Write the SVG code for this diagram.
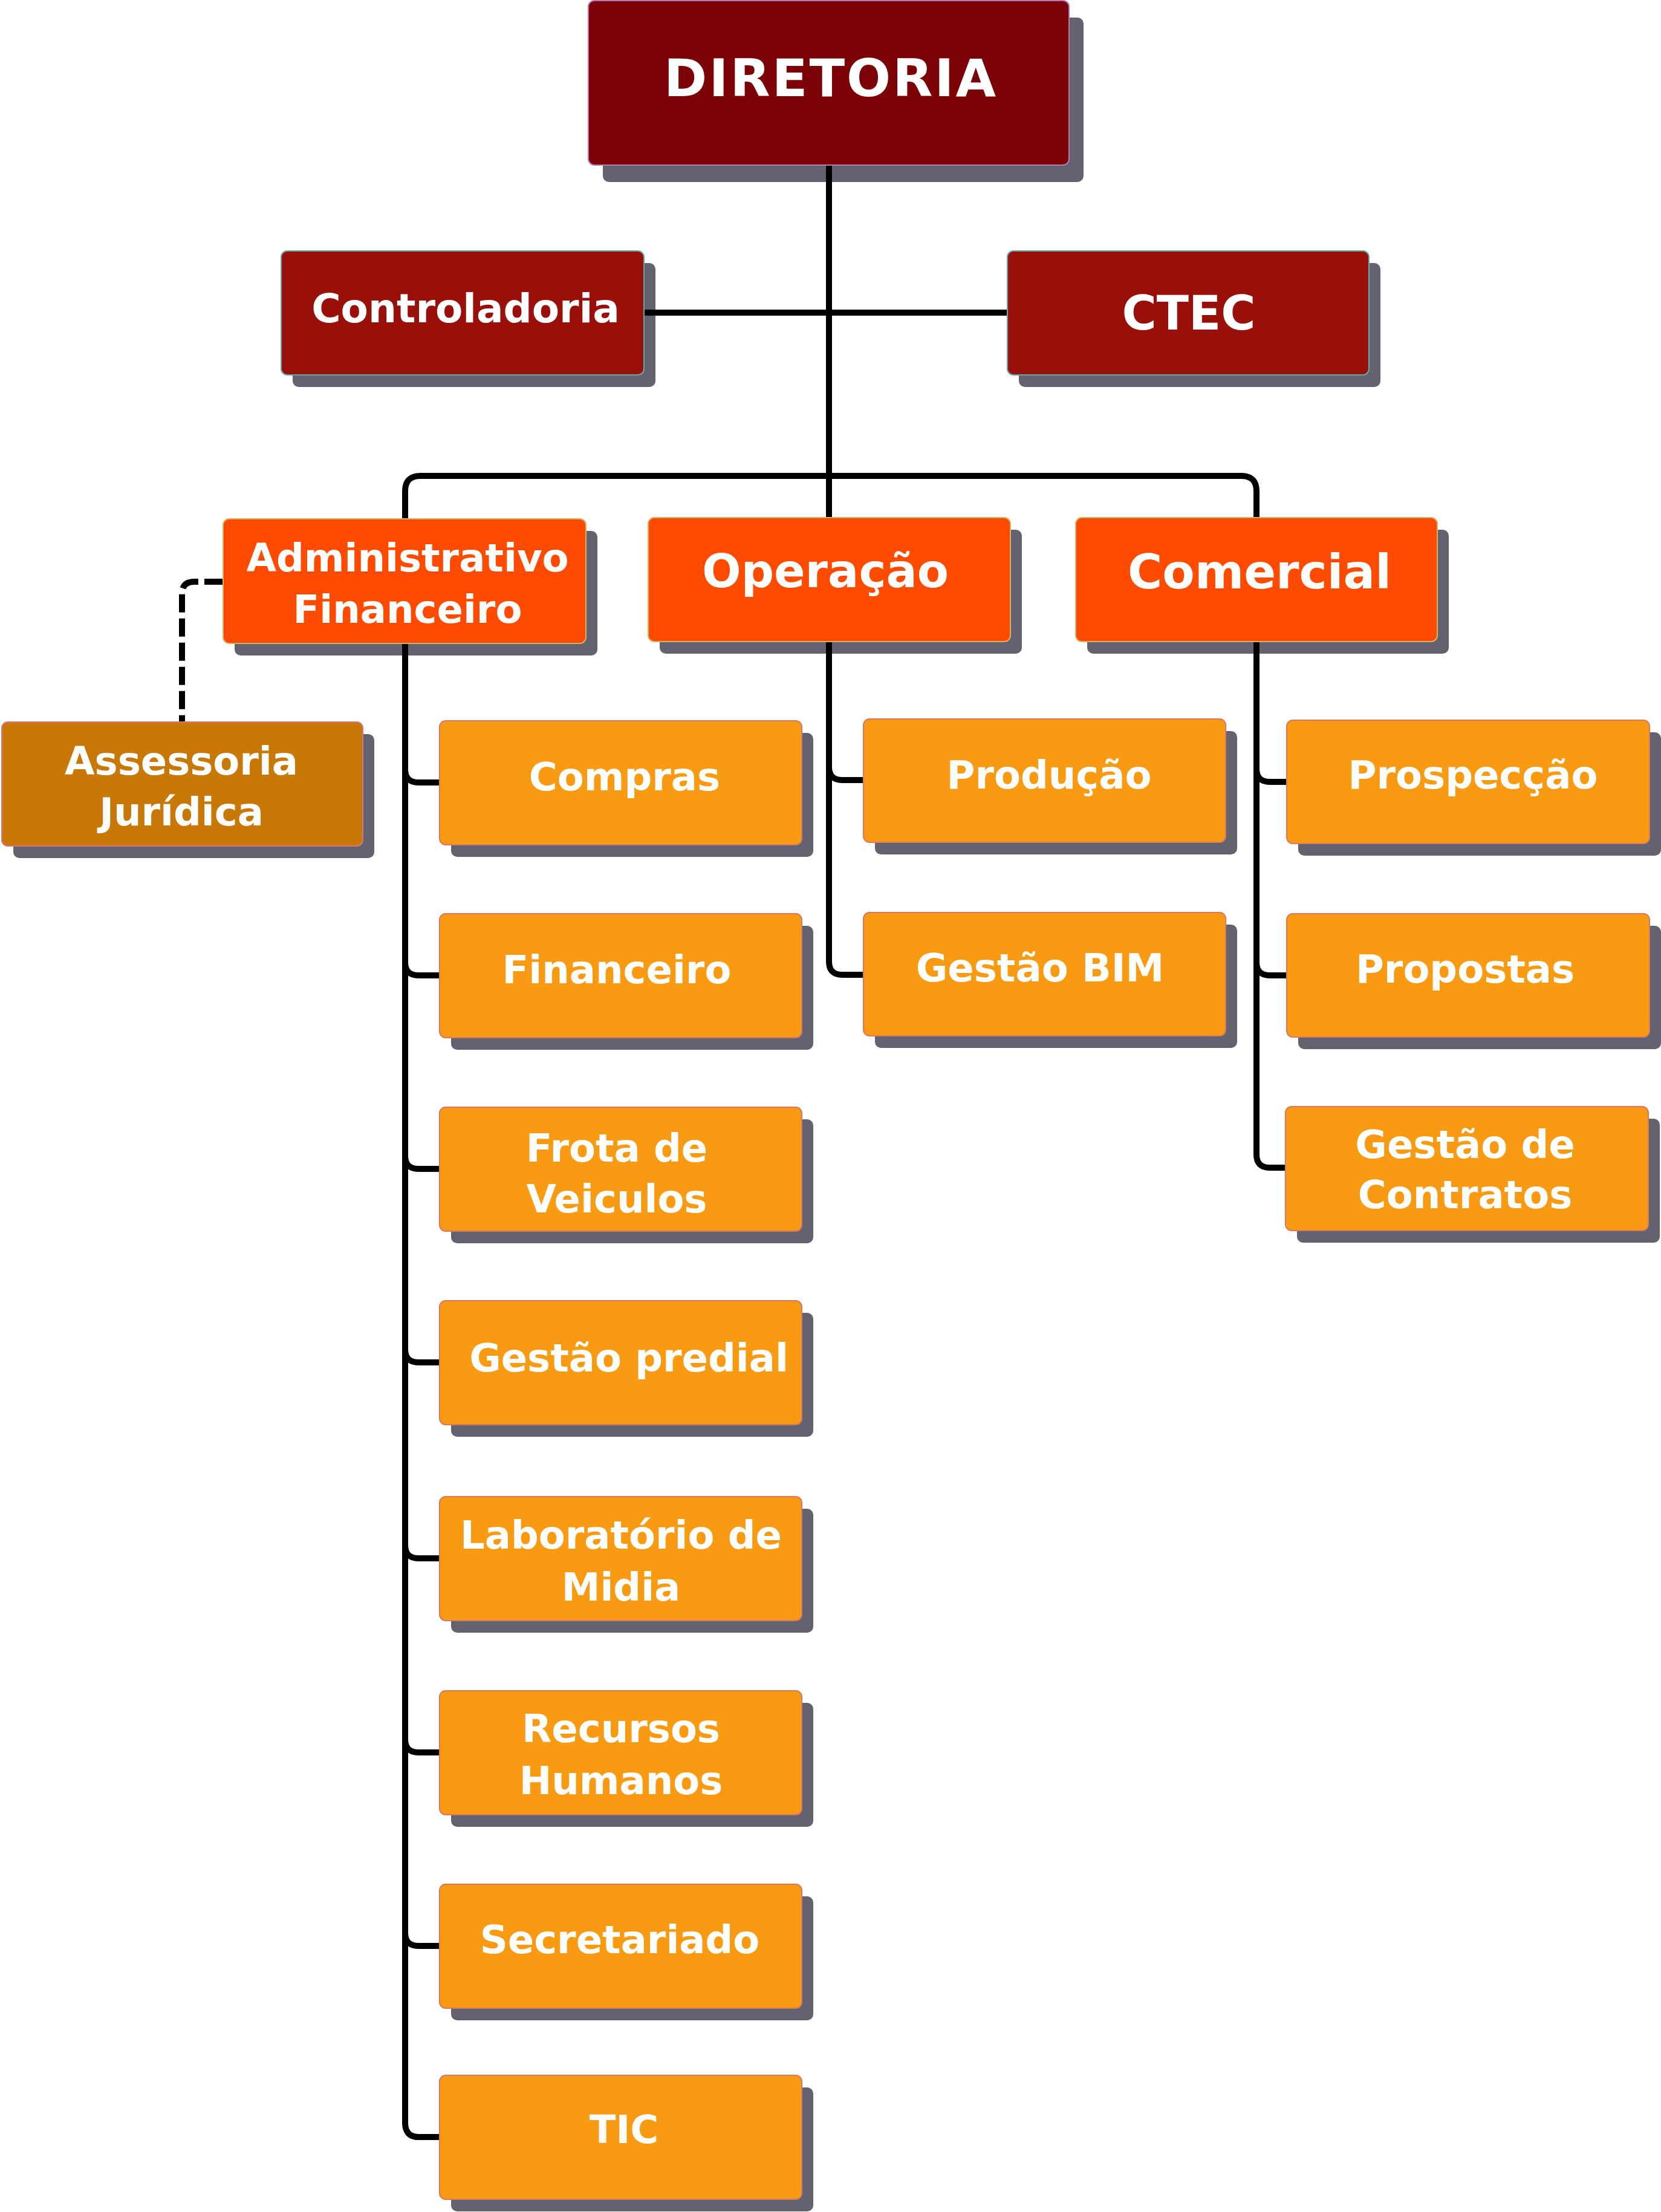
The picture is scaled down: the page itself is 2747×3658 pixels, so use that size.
<svg xmlns="http://www.w3.org/2000/svg" width="2747" height="3658" viewBox="0 0 2747 3658">
<style>
.sh{fill:#63626F}
.b0{fill:#7B0306;stroke:#B57BB5;stroke-width:2}
.b1{fill:#990F0A;stroke:#66A8A8;stroke-width:2}
.b2{fill:#FF4B00;stroke:#D4B26A;stroke-width:2}
.b3{fill:#F89A12;stroke:#D9785E;stroke-width:2}
.b4{fill:#C77807;stroke:#D9747A;stroke-width:2}
text{font-family:"DejaVu Sans","Liberation Sans",sans-serif;font-weight:bold;fill:#FFFFFF;text-anchor:middle}
.t{font-size:64px}
.c{fill:none;stroke:#000000;stroke-width:10}
.d{fill:none;stroke:#000000;stroke-width:10;stroke-dasharray:30 10}
</style>
<rect width="2747" height="3658" fill="#FFFFFF"/>
<g id="diretoria">
<rect class="sh" x="997" y="29" width="795" height="272" rx="10"/>
<rect class="b0" x="973" y="1" width="795" height="272" rx="10"/>
<text x="1374" y="159" style="font-size:86px;letter-spacing:3px">DIRETORIA</text>
</g>
<g id="controladoria">
<rect class="sh" x="484" y="435" width="600" height="205" rx="10"/>
<rect class="b1" x="465" y="415" width="600" height="205" rx="10"/>
<text x="770" y="533" style="font-size:66px">Controladoria</text>
</g>
<g id="ctec">
<rect class="sh" x="1685" y="435" width="598" height="205" rx="10"/>
<rect class="b1" x="1666" y="415" width="598" height="205" rx="10"/>
<text x="1966" y="545" style="font-size:78px">CTEC</text>
</g>
<g id="administrativo">
<rect class="sh" x="388" y="878" width="600" height="206" rx="10"/>
<rect class="b2" x="369" y="858" width="600" height="206" rx="10"/>
<text class="t" x="674" y="945">Administrativo</text>
<text class="t" x="674" y="1030">Financeiro</text>
</g>
<g id="operacao">
<rect class="sh" x="1091" y="876" width="599" height="205" rx="10"/>
<rect class="b2" x="1072" y="856" width="599" height="205" rx="10"/>
<text x="1365" y="971" style="font-size:76px">Operação</text>
</g>
<g id="comercial">
<rect class="sh" x="1798" y="876" width="598" height="205" rx="10"/>
<rect class="b2" x="1779" y="856" width="598" height="205" rx="10"/>
<text x="2083" y="973" style="font-size:78px">Comercial</text>
</g>
<g id="assessoria">
<rect class="sh" x="22" y="1214" width="597" height="205" rx="10"/>
<rect class="b4" x="3" y="1194" width="597" height="205" rx="10"/>
<text class="t" x="300" y="1281">Assessoria</text>
<text class="t" x="300" y="1365">Jurídica</text>
</g>
<g id="compras">
<rect class="sh" x="746" y="1212" width="599" height="205" rx="10"/>
<rect class="b3" x="727" y="1192" width="599" height="205" rx="10"/>
<text class="t" x="1033" y="1307">Compras</text>
</g>
<g id="financeiro">
<rect class="sh" x="746" y="1531" width="599" height="205" rx="10"/>
<rect class="b3" x="727" y="1511" width="599" height="205" rx="10"/>
<text class="t" x="1020" y="1626">Financeiro</text>
</g>
<g id="frota">
<rect class="sh" x="746" y="1851" width="599" height="205" rx="10"/>
<rect class="b3" x="727" y="1831" width="599" height="205" rx="10"/>
<text class="t" x="1020" y="1921">Frota de</text>
<text class="t" x="1020" y="2005">Veiculos</text>
</g>
<g id="gestao-predial">
<rect class="sh" x="746" y="2171" width="599" height="205" rx="10"/>
<rect class="b3" x="727" y="2151" width="599" height="205" rx="10"/>
<text class="t" x="1040" y="2268">Gestão predial</text>
</g>
<g id="laboratorio">
<rect class="sh" x="746" y="2495" width="599" height="205" rx="10"/>
<rect class="b3" x="727" y="2475" width="599" height="205" rx="10"/>
<text class="t" x="1027" y="2561">Laboratório de</text>
<text class="t" x="1027" y="2647">Midia</text>
</g>
<g id="recursos-humanos">
<rect class="sh" x="746" y="2816" width="599" height="205" rx="10"/>
<rect class="b3" x="727" y="2796" width="599" height="205" rx="10"/>
<text class="t" x="1027" y="2881">Recursos</text>
<text class="t" x="1027" y="2967">Humanos</text>
</g>
<g id="secretariado">
<rect class="sh" x="746" y="3136" width="599" height="205" rx="10"/>
<rect class="b3" x="727" y="3116" width="599" height="205" rx="10"/>
<text class="t" x="1025" y="3230">Secretariado</text>
</g>
<g id="tic">
<rect class="sh" x="746" y="3452" width="599" height="205" rx="10"/>
<rect class="b3" x="727" y="3432" width="599" height="205" rx="10"/>
<text class="t" x="1032" y="3544">TIC</text>
</g>
<g id="producao">
<rect class="sh" x="1447" y="1209" width="599" height="204" rx="10"/>
<rect class="b3" x="1428" y="1189" width="599" height="204" rx="10"/>
<text class="t" x="1735" y="1304">Produção</text>
</g>
<g id="gestao-bim">
<rect class="sh" x="1447" y="1529" width="599" height="204" rx="10"/>
<rect class="b3" x="1428" y="1509" width="599" height="204" rx="10"/>
<text class="t" x="1720" y="1623">Gestão BIM</text>
</g>
<g id="prospeccao">
<rect class="sh" x="2147" y="1211" width="600" height="204" rx="10"/>
<rect class="b3" x="2128" y="1191" width="600" height="204" rx="10"/>
<text class="t" x="2436" y="1304">Prospecção</text>
</g>
<g id="propostas">
<rect class="sh" x="2147" y="1531" width="600" height="204" rx="10"/>
<rect class="b3" x="2128" y="1511" width="600" height="204" rx="10"/>
<text class="t" x="2423" y="1625">Propostas</text>
</g>
<g id="gestao-contratos">
<rect class="sh" x="2145" y="1850" width="600" height="205" rx="10"/>
<rect class="b3" x="2126" y="1830" width="600" height="205" rx="10"/>
<text class="t" x="2423" y="1915">Gestão de</text>
<text class="t" x="2423" y="1998">Contratos</text>
</g>
<g id="connectors">
<path class="c" d="M1371 274 V855"/>
<path class="c" d="M1066 517 H1665"/>
<path class="c" d="M670 857 V812 Q670 787 695 787 H2053 Q2078 787 2078 812 V855"/>
<path class="c" d="M670 1065 V3510 Q670 3534 692 3534 H726"/>
<path class="c" d="M670 1272 Q670 1294 692 1294 H726"/>
<path class="c" d="M670 1591 Q670 1613 692 1613 H726"/>
<path class="c" d="M670 1911 Q670 1933 692 1933 H726"/>
<path class="c" d="M670 2231 Q670 2253 692 2253 H726"/>
<path class="c" d="M670 2555 Q670 2577 692 2577 H726"/>
<path class="c" d="M670 2876 Q670 2898 692 2898 H726"/>
<path class="c" d="M670 3196 Q670 3218 692 3218 H726"/>
<path class="c" d="M1371 1062 V1590 Q1371 1612 1393 1612 H1427"/>
<path class="c" d="M1371 1268 Q1371 1290 1393 1290 H1427"/>
<path class="c" d="M2078 1062 V1909 Q2078 1931 2100 1931 H2125"/>
<path class="c" d="M2078 1271 Q2078 1293 2100 1293 H2127"/>
<path class="c" d="M2078 1591 Q2078 1613 2100 1613 H2127"/>
<path class="d" d="M368 962 H321 Q301 962 301 982 V1193"/>
</g>
</svg>
